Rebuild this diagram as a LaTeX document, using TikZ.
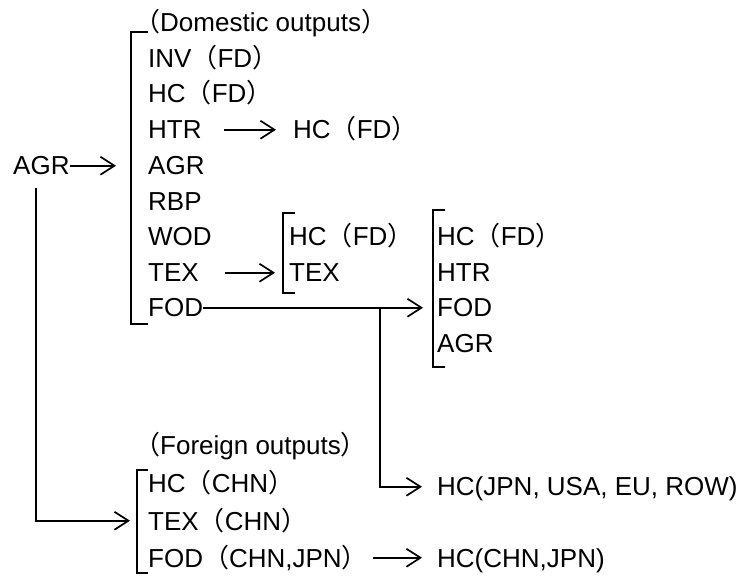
\documentclass[tikz,border=0pt]{standalone}
\usepackage{fontspec}
\setmainfont{Liberation Sans}
\newfontfamily\jpfont{Noto Sans CJK JP}
\usetikzlibrary{arrows.meta}
\newcommand{\jlp}{{\jpfont （}}
\newcommand{\jrp}{{\jpfont ）}}
\begin{document}
\begin{tikzpicture}[x=1pt,y=-1pt,
  txt/.style={anchor=base west, inner sep=0pt, text height=18.5pt, text depth=0pt, font=\fontsize{26}{30}\selectfont},
  arr/.style={line width=1.7pt, -{Straight Barb[length=14pt,width=18pt,line width=1.7pt]}},
  brk/.style={line width=1.6pt}]
\useasboundingbox (0,0) rectangle (753,577);
% domestic list
\node[txt] (agr0) at (13,175) {AGR};
\node[txt] (dh) at (134,32) {\jlp Domestic outputs\jrp};
\node[txt] (inv) at (148,68) {INV\jlp FD\jrp};
\node[txt] (hc) at (148,103) {HC\jlp FD\jrp};
\node[txt] (htr) at (148,139) {HTR};
\node[txt] (agr) at (148,175) {AGR};
\node[txt] (rbp) at (148,211) {RBP};
\node[txt] (wod) at (148,246) {WOD};
\node[txt] (tex) at (148,282) {TEX};
\node[txt] (fod) at (148,317) {FOD};
\node[txt] (htrhc) at (293,139) {HC\jlp FD\jrp};
\node[txt] (mhc) at (289,246) {HC\jlp FD\jrp};
\node[txt] (mtex) at (289,282) {TEX};
\node[txt] (rhc) at (437,246) {HC\jlp FD\jrp};
\node[txt] (rhtr) at (437,282) {HTR};
\node[txt] (rfod) at (437,317) {FOD};
\node[txt] (ragr) at (437,353) {AGR};
% foreign list
\node[txt] (fh) at (134,455) {\jlp Foreign outputs\jrp};
\node[txt] (fhc) at (148,493) {HC\jlp CHN\jrp};
\node[txt] (ftex) at (148,530) {TEX\jlp CHN\jrp};
\node[txt] (ffod) at (148,567) {FOD\jlp CHN,JPN\jrp};
\node[txt] (hcall) at (437,496) {HC(JPN, USA, EU, ROW)};
\node[txt] (hccj) at (437,567) {HC(CHN,JPN)};
% brackets
\draw[brk] (148,32) -- (131,32) -- (131,324) -- (148,324);
\draw[brk] (295,213) -- (283,213) -- (283,293) -- (295,293);
\draw[brk] (445,210) -- (433,210) -- (433,367) -- (445,367);
\draw[brk] (148,470) -- (137,470) -- (137,573) -- (148,573);
% connectors
\coordinate (a1) at (116,0);
\coordinate (j) at (380,0);
\coordinate (ls) at (36,188);
\draw[arr] (agr0.east) -- (agr0.east -| a1);
\draw[arr] ([xshift=22pt]htr.east) -- ([xshift=-17pt]htrhc.west);
\draw[arr] ([xshift=26pt]tex.east) -- ([xshift=-14pt]mtex.west);
\draw[arr] (fod.east) -- ([xshift=-14pt]rfod.west);
\draw[arr] (fod.east -| j) |- ([xshift=-15pt]hcall.west);
\draw[arr] ([xshift=5pt]ffod.east) -- ([xshift=-15pt]hccj.west);
\draw[arr] (ls) |- ([xshift=-18pt]ftex.west);
\end{tikzpicture}
\end{document}
